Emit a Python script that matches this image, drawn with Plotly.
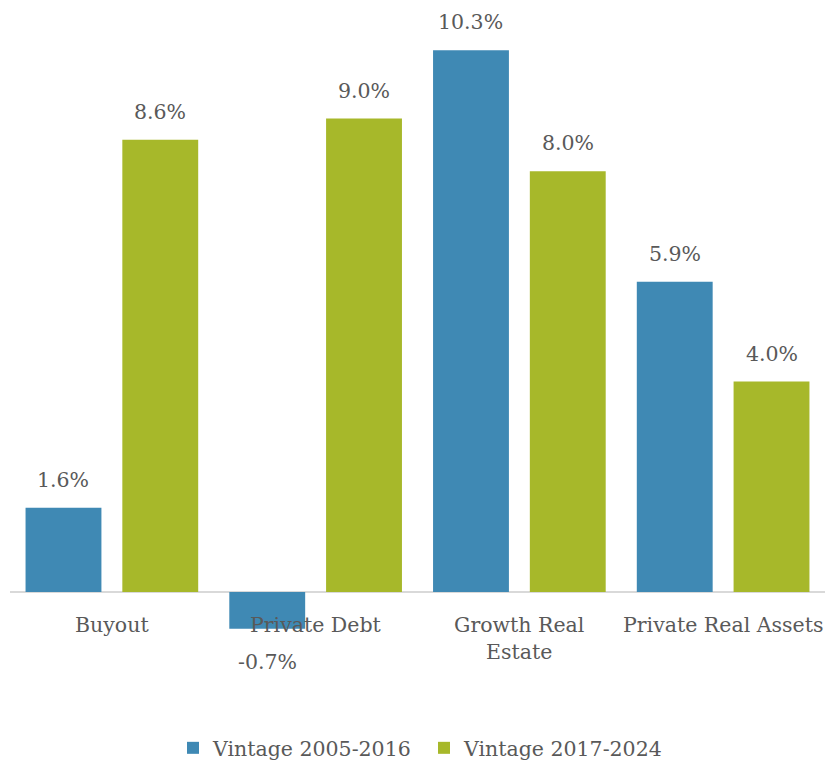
import plotly.graph_objects as go

categories = ["Buyout", "Private Debt", "Growth Real<br>Estate", "Private Real Assets"]
series_names = ["Vintage 2005-2016", "Vintage 2017-2024"]
vintage_2005_2016 = [1.6, -0.7, 10.3, 5.9]
vintage_2017_2024 = [8.6, 9.0, 8.0, 4.0]

colors = ["#3F89B4", "#A7B82A"]
font_family = "Palatino Linotype, Book Antiqua, Palatino, DejaVu Serif, serif"
text_color = "#595959"
fs = 20.5
px_per_unit = 52.6

x_idx = list(range(len(categories)))

fig = go.Figure()
for name, vals, col in zip(series_names, [vintage_2005_2016, vintage_2017_2024], colors):
    fig.add_trace(go.Bar(x=x_idx, y=vals, name=name, marker=dict(color=col, line=dict(width=0))))

# value labels above (or below for negatives) each bar
offsets = [-48.5, 48.5]
annotations = []
for vals, dx in zip([vintage_2005_2016, vintage_2017_2024], offsets):
    for i, v in enumerate(vals):
        annotations.append(dict(
            x=i, y=v, xref="x", yref="y", text=f"{v:.1f}%", showarrow=False,
            xshift=dx, yshift=28 if v >= 0 else -33, yanchor="middle",
            font=dict(family=font_family, size=fs, color=text_color)))

# category labels sit just under the zero line
for i, c in enumerate(categories):
    annotations.append(dict(
        x=i, y=0, xref="x", yref="y", text=c, showarrow=False,
        yanchor="top", yshift=-19,
        font=dict(family=font_family, size=fs, color=text_color)))

fig.update_layout(
    width=828, height=762,
    margin=dict(l=10, r=3, t=0, b=62),
    plot_bgcolor="white", paper_bgcolor="white",
    barmode="group", bargap=0.05, bargroupgap=0.216,
    showlegend=True,
    legend=dict(orientation="h", xanchor="center", x=0.508, yref="container", y=14 / 762,
                yanchor="middle", font=dict(family=font_family, size=fs, color=text_color),
                itemwidth=30, traceorder="normal", entrywidth=206, entrywidthmode="pixels"),
    annotations=annotations,
    xaxis=dict(range=[-0.5, 3.5], showticklabels=False, showgrid=False, zeroline=False,
               showline=False, ticks=""),
    yaxis=dict(range=[-(700 - 592) / px_per_unit, 592 / px_per_unit], showticklabels=False,
               showgrid=False, zeroline=True, zerolinecolor="#D9D9D9", zerolinewidth=2,
               showline=False),
)

fig.write_html("out.html")
